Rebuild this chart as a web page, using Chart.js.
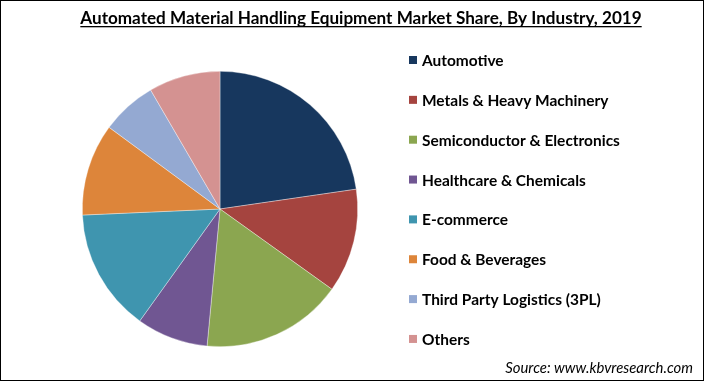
<!DOCTYPE html>
<html><head><meta charset="utf-8">
<script src="https://cdn.jsdelivr.net/npm/chart.js@4/dist/chart.umd.min.js"></script>
<style>html,body{margin:0;padding:0;background:#fff;}#wrap{width:704px;height:381px;position:relative;}</style>
</head><body><div id="wrap"><canvas id="c" width="704" height="381"></canvas></div>
<script>
const title = "Automated Material Handling Equipment Market Share, By Industry, 2019";
const source = "Source: www.kbvresearch.com";
const categories = ["Automotive","Metals & Heavy Machinery","Semiconductor & Electronics","Healthcare & Chemicals","E-commerce","Food & Beverages","Third Party Logistics (3PL)","Others"];
const shares = [22.7, 12.2, 16.6, 8.4, 14.4, 10.8, 6.5, 8.4];
const colors = ["#17375E","#A5443F","#8BA650","#705692","#3F95AF","#DD853A","#94A9D2","#D49291"];

function fitFont(ctx, text, weight, style, family, targetW){
  ctx.font = style+" "+weight+" 20px "+family;
  const w = ctx.measureText(text).width;
  return 20*targetW/w;
}

const decor = {
  id:'decor',
  afterDraw(chart){
    const ctx = chart.ctx;
    ctx.save();
    // border
    ctx.strokeStyle = '#000'; ctx.lineWidth = 1;
    ctx.strokeRect(0.5,0.5,703,380);
    // title
    const fam = "Lato, 'Liberation Sans', sans-serif";
    const ts = fitFont(ctx, title, 'bold', 'normal', fam, 562);
    ctx.font = "bold "+ts+"px "+fam;
    ctx.fillStyle = '#000'; ctx.textBaseline='alphabetic'; ctx.textAlign='left';
    const tw = ctx.measureText(title).width;
    const tx = 361 - tw/2;
    ctx.fillText(title, tx, 24);
    ctx.fillRect(tx, 26, tw, 1.3);
    // legend
    const ls = fitFont(ctx, categories[2], 'bold', 'normal', fam, 198);
    ctx.font = "bold "+ls+"px "+fam;
    ctx.textBaseline='middle';
    categories.forEach((lab,i)=>{
      const y = 60 + i*39.85;
      ctx.fillStyle = colors[i];
      ctx.fillRect(409, y-4, 8, 8);
      ctx.fillStyle = '#000';
      ctx.fillText(lab, 422, y+1);
    });
    // source
    const ss = fitFont(ctx, source, 'normal', 'italic', fam, 188);
    ctx.font = "italic normal "+ss+"px "+fam;
    ctx.textAlign='right'; ctx.textBaseline='middle';
    ctx.fillStyle = '#000';
    ctx.fillText(source, 693, 368);
    ctx.restore();
  }
};

new Chart(document.getElementById('c'), {
  type:'pie',
  data:{labels:categories, datasets:[{data:shares, backgroundColor:colors, borderColor:'rgba(255,255,255,0.6)', borderWidth:0.6}]},
  options:{
    responsive:false, animation:false,
    layout:{padding:{left:82, right:346, top:70, bottom:33}},
    plugins:{legend:{display:false}, tooltip:{enabled:false}, title:{display:false}}
  },
  plugins:[decor]
});
</script></body></html>
